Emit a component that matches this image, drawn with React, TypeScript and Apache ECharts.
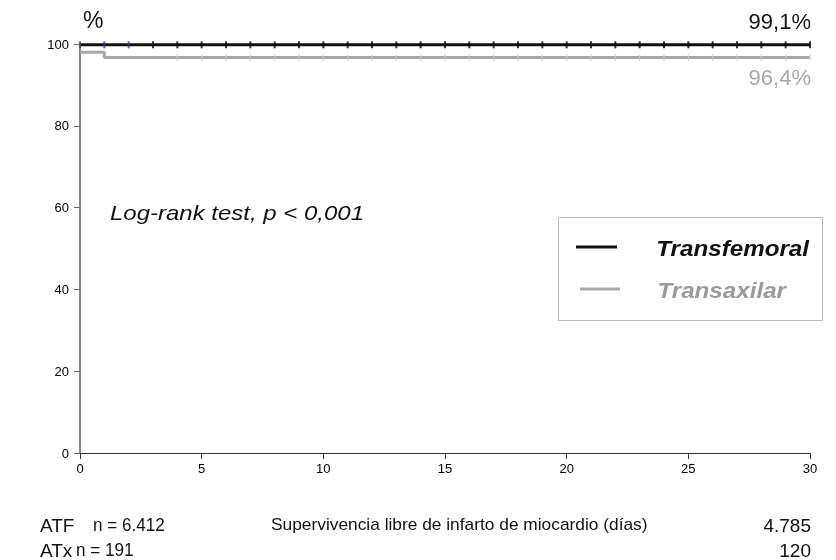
import React, { useEffect, useRef } from "react";
import * as echarts from "echarts";

const xTicks = [0, 5, 10, 15, 20, 25, 30];
const yTicks = [0, 20, 40, 60, 80, 100];

// Kaplan-Meier step curves (day, % free of MI)
const tfDays = [0, 30];
const tfSurv = [99.8, 99.8];
const txDays = [0, 1, 30];
const txSurv = [98.0, 96.7, 96.7];

// censoring marks (days)
const tfCensorDays = [0, 1, 2, 3, 4, 5, 6, 7, 8, 9, 10, 11, 12, 13, 14, 15, 16, 17, 18, 19, 20, 21, 22, 23, 24, 25, 26, 27, 28, 29, 30];
const txCensorDays = [4, 5, 6, 7, 8, 9, 10, 11, 12, 13, 14, 15, 16, 17, 18, 19, 20, 21, 22, 23, 24, 25, 26, 27, 28, 29, 30];

const seriesNames = ["Transfemoral", "Transaxilar"];
const finalLabels = ["99,1%", "96,4%"];
const nAtRisk = [
  { group: "ATF", start: "n = 6.412", end: "4.785" },
  { group: "ATx", start: "n = 191", end: "120" },
];
const xTitle = "Supervivencia libre de infarto de miocardio (días)";
const testText = "Log-rank test, p < 0,001";

const FONT = "'Liberation Sans', Arial, sans-serif";

export default function App() {
  const ref = useRef<HTMLDivElement>(null);
  useEffect(() => {
    const chart = echarts.init(ref.current!, null, { renderer: "svg" });
    const black = "#111111";
    const gray = "#a8a8a8";
    const tfData = tfDays.map((d, i) => [d, tfSurv[i]]);
    const txData = txDays.map((d, i) => [d, txSurv[i]]);
    const valAt = (days: number[], surv: number[], d: number) => {
      let v = surv[0];
      for (let i = 0; i < days.length; i++) if (days[i] <= d) v = surv[i];
      return v;
    };
    chart.setOption({
      animation: false,
      grid: { left: 80, right: 26, top: 44, bottom: 107 },
      xAxis: {
        type: "value",
        min: xTicks[0],
        max: xTicks[xTicks.length - 1],
        interval: 5,
        axisLine: { lineStyle: { color: "#333", width: 1 } },
        axisTick: { show: true, length: 6, lineStyle: { color: "#333" } },
        axisLabel: { color: "#000", fontSize: 13, fontFamily: FONT, margin: 9 },
        splitLine: { show: false },
      },
      yAxis: {
        type: "value",
        min: yTicks[0],
        max: yTicks[yTicks.length - 1],
        interval: 20,
        axisLine: { show: true, lineStyle: { color: "#888", width: 2 } },
        axisTick: { show: true, length: 6, lineStyle: { color: "#666" } },
        axisLabel: { color: "#000", fontSize: 13, fontFamily: FONT, margin: 11 },
        splitLine: { show: false },
      },
      series: [
        {
          name: seriesNames[1],
          type: "line",
          step: "end",
          data: txData,
          symbol: "none",
          lineStyle: { color: gray, width: 3 },
          z: 2,
        },
        {
          name: seriesNames[0],
          type: "line",
          step: "end",
          data: tfData,
          symbol: "none",
          lineStyle: { color: black, width: 3 },
          z: 3,
        },
        {
          type: "scatter",
          data: txCensorDays.map((d) => [d, valAt(txDays, txSurv, d)]),
          symbol: "rect",
          symbolSize: [1.2, 7],
          itemStyle: { color: "#d0d0d0" },
          z: 4,
        },
        {
          type: "scatter",
          data: tfCensorDays.map((d) => [d, valAt(tfDays, tfSurv, d)]),
          symbol: "rect",
          symbolSize: [2, 7],
          itemStyle: {
            color: (p: any) => (p.dataIndex < 3 ? "#3b3b8f" : "#000"),
          },
          z: 5,
        },
      ],
      graphic: [
        { type: "text", x: 83, y: 20, style: { text: "%", font: `23px ${FONT}`, fill: "#111", verticalAlign: "middle" } },
        { type: "text", x: 811, y: 21, style: { text: finalLabels[0], font: `22px ${FONT}`, fill: "#111", align: "right", verticalAlign: "middle" } },
        { type: "text", x: 811, y: 77, style: { text: finalLabels[1], font: `22px ${FONT}`, fill: "#a8a8a8", align: "right", verticalAlign: "middle" } },
        { type: "text", x: 110, y: 213, scaleX: 1.2, style: { text: testText, font: `italic 20px ${FONT}`, fill: "#111", verticalAlign: "middle" } },
        {
          type: "rect",
          shape: { x: 558.5, y: 217.5, width: 264, height: 103 },
          style: { fill: "#fff", stroke: "#bbbbbb", lineWidth: 1 },
          z: 10,
        },
        { type: "line", shape: { x1: 576, y1: 247, x2: 617, y2: 247 }, style: { stroke: black, lineWidth: 3 }, z: 11 },
        { type: "line", shape: { x1: 580, y1: 289, x2: 620, y2: 289 }, style: { stroke: gray, lineWidth: 3 }, z: 11 },
        {
          type: "text", x: 809, y: 248, scaleX: 1.1, z: 11,
          style: { text: seriesNames[0], font: `italic bold 22px ${FONT}`, fill: "#111", align: "right", verticalAlign: "middle" },
        },
        {
          type: "text", x: 786, y: 290, scaleX: 1.1, z: 11,
          style: { text: seriesNames[1], font: `italic bold 22px ${FONT}`, fill: "#9a9a9a", align: "right", verticalAlign: "middle" },
        },
        { type: "text", x: 40, y: 525, style: { text: nAtRisk[0].group, font: `19px ${FONT}`, fill: "#111", verticalAlign: "middle" } },
        { type: "text", x: 93, y: 525, scaleX: 0.9, style: { text: nAtRisk[0].start, font: `19px ${FONT}`, fill: "#111", verticalAlign: "middle" } },
        { type: "text", x: 40, y: 550, style: { text: nAtRisk[1].group, font: `19px ${FONT}`, fill: "#111", verticalAlign: "middle" } },
        { type: "text", x: 76, y: 550, scaleX: 0.9, style: { text: nAtRisk[1].start, font: `19px ${FONT}`, fill: "#111", verticalAlign: "middle" } },
        { type: "text", x: 271, y: 524, scaleX: 1.02, style: { text: xTitle, font: `17px ${FONT}`, fill: "#111", verticalAlign: "middle" } },
        { type: "text", x: 811, y: 525, style: { text: nAtRisk[0].end, font: `19px ${FONT}`, fill: "#111", align: "right", verticalAlign: "middle" } },
        { type: "text", x: 811, y: 550, style: { text: nAtRisk[1].end, font: `19px ${FONT}`, fill: "#111", align: "right", verticalAlign: "middle" } },
      ],
    });
    return () => chart.dispose();
  }, []);
  return <div ref={ref} style={{ position: "fixed", left: 0, top: 0, width: 836, height: 560 }} />;
}
